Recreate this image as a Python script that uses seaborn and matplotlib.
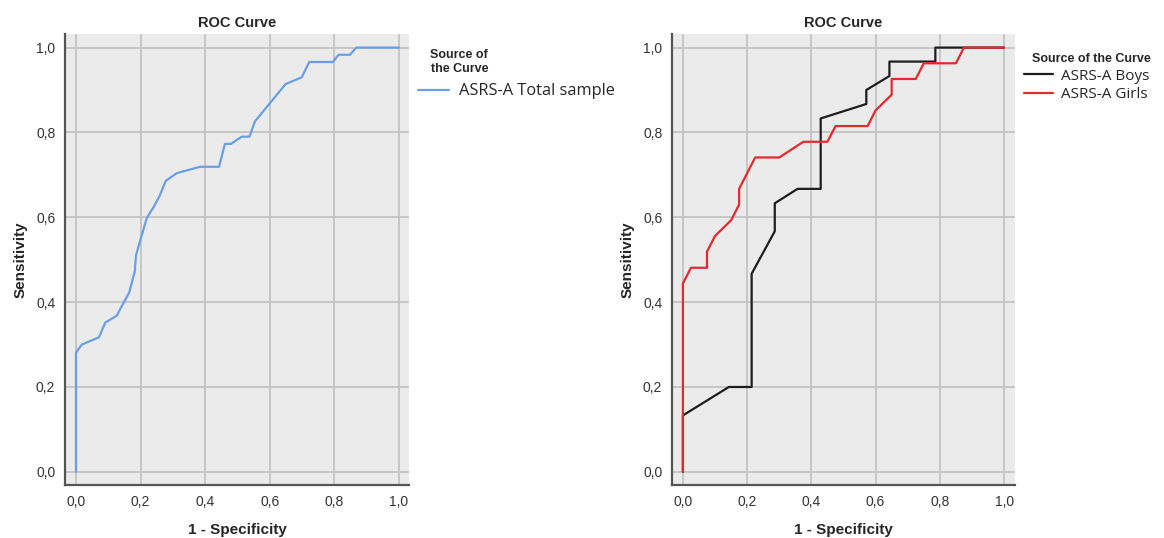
import numpy as np
import pandas as pd
import matplotlib
matplotlib.use("Agg")
import matplotlib.pyplot as plt
import seaborn as sns

# ROC points (1 - specificity, sensitivity)
total_fpr = [0.0, 0.0, 0.018, 0.071, 0.091, 0.126, 0.152, 0.165, 0.183, 0.183, 0.186,
             0.219, 0.241, 0.258, 0.278, 0.312, 0.384, 0.443, 0.461, 0.480, 0.513,
             0.537, 0.554, 0.649, 0.699, 0.722, 0.795, 0.813, 0.848, 0.868, 1.0]
total_tpr = [0.0, 0.281, 0.300, 0.317, 0.352, 0.368, 0.405, 0.423, 0.476, 0.484, 0.511,
             0.598, 0.625, 0.649, 0.686, 0.704, 0.719, 0.719, 0.773, 0.773, 0.790,
             0.790, 0.826, 0.914, 0.930, 0.966, 0.966, 0.983, 0.983, 1.0, 1.0]

boys_fpr = [0.0, 0.0, 0.143, 0.214, 0.214, 0.286, 0.286, 0.357, 0.429, 0.429,
            0.571, 0.571, 0.643, 0.643, 0.786, 0.786, 1.0]
boys_tpr = [0.0, 0.133, 0.2, 0.2, 0.467, 0.567, 0.633, 0.667, 0.667, 0.833,
            0.867, 0.9, 0.933, 0.967, 0.967, 1.0, 1.0]

girls_fpr = [0.0, 0.0, 0.025, 0.075, 0.075, 0.1, 0.15, 0.175, 0.175, 0.225, 0.3,
             0.375, 0.45, 0.475, 0.575, 0.6, 0.65, 0.65, 0.725, 0.75, 0.85, 0.875, 1.0]
girls_tpr = [0.0, 0.444, 0.481, 0.481, 0.519, 0.556, 0.593, 0.630, 0.667, 0.741, 0.741,
             0.778, 0.778, 0.815, 0.815, 0.852, 0.889, 0.926, 0.926, 0.963, 0.963, 1.0, 1.0]

ticks = [0.0, 0.2, 0.4, 0.6, 0.8, 1.0]
tick_labels = ["0,0", "0,2", "0,4", "0,6", "0,8", "1,0"]

sns.set_style("darkgrid", {"axes.facecolor": "#ebebeb", "grid.color": "#c4c4c4"})
plt.rcParams["font.family"] = ["Liberation Sans", "DejaVu Sans"]

fig = plt.figure(figsize=(11.64, 5.38), dpi=100)
ax1 = fig.add_axes([65 / 1164, 1 - 485 / 538, 344 / 1164, 451 / 538])
ax2 = fig.add_axes([672 / 1164, 1 - 485 / 538, 343 / 1164, 451 / 538])


def style_axes(ax, xmin, xmax):
    ax.set_xlim(xmin, xmax)
    ax.set_ylim(-0.031, 1.032)
    ax.set_xticks(ticks)
    ax.set_yticks(ticks)
    ax.set_xticklabels(tick_labels)
    ax.set_yticklabels(tick_labels)
    ax.tick_params(length=0, labelsize=10, labelcolor="#333333", pad=7)
    ax.grid(True, color="#c4c4c4", linewidth=1.3)
    for side in ["top", "right"]:
        ax.spines[side].set_visible(False)
    for side in ["left", "bottom"]:
        ax.spines[side].set_visible(True)
        ax.spines[side].set_color("#555555")
        ax.spines[side].set_linewidth(1.6)
    ax.set_title("ROC Curve", fontsize=10.5, fontweight="bold", pad=5)
    ax.set_xlabel("1 - Specificity", fontsize=11, fontweight="bold", labelpad=10)
    ax.set_ylabel("Sensitivity", fontsize=11, fontweight="bold", labelpad=6)


df_total = pd.DataFrame({"fpr": total_fpr, "tpr": total_tpr})
sns.lineplot(data=df_total, x="fpr", y="tpr", sort=False, estimator=None,
             color="#6a9fe6", linewidth=1.6, ax=ax1, label="ASRS-A Total sample")
style_axes(ax1, -0.034, 1.031)

df_boys = pd.DataFrame({"fpr": boys_fpr, "tpr": boys_tpr})
df_girls = pd.DataFrame({"fpr": girls_fpr, "tpr": girls_tpr})
sns.lineplot(data=df_boys, x="fpr", y="tpr", sort=False, estimator=None,
             color="#1e1e1e", linewidth=1.6, ax=ax2, label="ASRS-A Boys")
sns.lineplot(data=df_girls, x="fpr", y="tpr", sort=False, estimator=None,
             color="#e52a2f", linewidth=1.6, ax=ax2, label="ASRS-A Girls")
style_axes(ax2, -0.034, 1.034)

title_font = {"family": ["Liberation Sans", "DejaVu Sans"], "weight": "bold", "size": 9}

leg1 = ax1.legend(loc="upper left", bbox_to_anchor=(407 / 1164, 1 - 38 / 538),
                  bbox_transform=fig.transFigure, frameon=False,
                  title="Source of\nthe Curve", title_fontproperties=title_font,
                  prop={"family": ["Open Sans", "DejaVu Sans"], "size": 11.8},
                  handlelength=1.85, handletextpad=0.6,
                  alignment="left", borderpad=0.2)
leg1.get_title().set_ha("center")
# the title sits a little to the right of the line handle in the original
leg1.get_title().set_position((12, 0))

leg2 = ax2.legend(loc="upper left", bbox_to_anchor=(1013 / 1164, 1 - 42 / 538),
                  bbox_transform=fig.transFigure, frameon=False,
                  title="Source of the Curve", title_fontproperties=title_font,
                  prop={"family": ["Open Sans", "DejaVu Sans"], "size": 11},
                  handlelength=1.95, handletextpad=0.5,
                  alignment="left", borderpad=0.2, labelspacing=0.25)
leg2.get_title().set_position((8, 0))

fig.savefig("out.png", dpi=100, facecolor="white")
